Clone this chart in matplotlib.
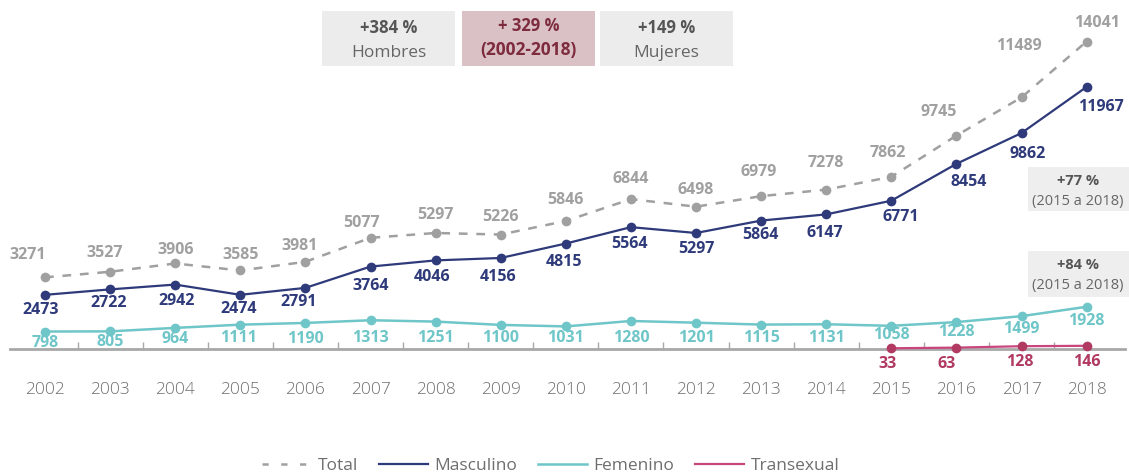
import matplotlib
matplotlib.use("Agg")
import matplotlib.pyplot as plt
from matplotlib.patches import Rectangle

# ---- data -------------------------------------------------------------
years = list(range(2002, 2019))
total = [3271, 3527, 3906, 3585, 3981, 5077, 5297, 5226, 5846,
         6844, 6498, 6979, 7278, 7862, 9745, 11489, 14041]
masculino = [2473, 2722, 2942, 2474, 2791, 3764, 4046, 4156, 4815,
             5564, 5297, 5864, 6147, 6771, 8454, 9862, 11967]
femenino = [798, 805, 964, 1111, 1190, 1313, 1251, 1100, 1031,
            1280, 1201, 1115, 1131, 1058, 1228, 1499, 1928]
trans_years = [2015, 2016, 2017, 2018]
transexual = [33, 63, 128, 146]

series_names = ["Total", "Masculino", "Femenino", "Transexual"]
top_boxes = [("+384 %", "Hombres"), ("+ 329 %", "(2002-2018)"), ("+149 %", "Mujeres")]
side_boxes = [("+77 %", "(2015 a 2018)"), ("+84 %", "(2015 a 2018)")]

# ---- style ------------------------------------------------------------
C_TOTAL = "#a0a0a0"
C_MASC = "#2e3a7a"
C_FEM = "#6fc6c8"
C_TRANS_LINE = "#c8467c"
C_TRANS = "#b03a62"
C_AXIS = "#a8a8a8"
C_TEXT = "#6e6e6e"

plt.rcParams["font.family"] = ["Open Sans", "DejaVu Sans"]

W, H = 1129, 476
fig = plt.figure(figsize=(W / 100, H / 100), dpi=100)

PX_PER_UNIT = 0.0219          # vertical pixels per case
X0, STEP = 45, 65.1           # pixel of first year, pixels per year
ax_left, ax_right = 10, 1125
ax_bottom_px = 127            # from figure bottom
ax_h_px = 330
ax = fig.add_axes([ax_left / W, ax_bottom_px / H, (ax_right - ax_left) / W, ax_h_px / H])
ax.set_xlim(years[0] + (ax_left - X0) / STEP, years[0] + (ax_right - X0) / STEP)
ax.set_ylim(0, ax_h_px / PX_PER_UNIT)

for s in ("top", "left", "right"):
    ax.spines[s].set_visible(False)
ax.spines["bottom"].set_color(C_AXIS)
ax.spines["bottom"].set_linewidth(2)
ax.set_yticks([])
ax.set_xticks(years)
ax.set_xticklabels([str(y) for y in years], fontweight="light")
ax.set_xticks([y + 0.5 for y in years[:-1]], minor=True)
ax.tick_params(axis="x", which="major", length=0, pad=24, labelsize=12.5, labelcolor=C_TEXT)
ax.tick_params(axis="x", which="minor", length=5, width=1, direction="in", color=C_AXIS)

ms = 7
ax.plot(years, total, color=C_TOTAL, lw=1.8, dashes=(3.5, 3.5), marker="o", ms=ms,
        markeredgewidth=0, label=series_names[0], clip_on=False, zorder=3)
ax.plot(years, masculino, color=C_MASC, lw=1.6, marker="o", ms=ms,
        markeredgewidth=0, label=series_names[1], clip_on=False, zorder=4)
ax.plot(years, femenino, color=C_FEM, lw=1.8, marker="o", ms=ms,
        markeredgewidth=0, label=series_names[2], clip_on=False, zorder=4)
ax.plot(trans_years, transexual, color=C_TRANS_LINE, lw=1.6, marker="o", ms=ms,
        markerfacecolor=C_TRANS, markeredgewidth=0, label=series_names[3],
        clip_on=False, zorder=5)

# label offsets in pixels: (right, down)
total_off = [(-17, -22), (-5, -19), (0, -13), (0, -15), (-6, -16), (-9, -15), (0, -18),
             (0, -18), (0, -21), (0, -20), (0, -17), (-2, -24), (0, -27), (-3, -24),
             (-18, -24), (-3, -51), (10, -19)]
masc_off = [(-4, 15), (-1, 14), (1, 16), (-2, 14), (-7, 14), (0, 19), (-4, 17), (-3, 19),
            (-2, 18), (-1, 17), (0, 16), (-1, 14), (-1, 19), (10, 16), (12, 18), (6, 21),
            (14, 20)]
fem_off = [(0, 11), (0, 11), (0, 11), (-2, 13), (0, 16), (0, 18), (0, 16), (0, 13),
           (0, 12), (0, 17), (0, 15), (0, 13), (0, 14), (0, 9), (0, 10), (0, 13), (0, 14)]
trans_off = [(-4, 16), (-10, 16), (-2, 16), (0, 16)]


def label_series(xs, vals, offs, color):
    for x, v, (dx, dy) in zip(xs, vals, offs):
        ax.annotate(f"{v}", (x, v), xytext=(dx * 0.72, -dy * 0.72),
                    textcoords="offset points", ha="center", va="center",
                    fontsize=11.5, fontweight="bold", color=color,
                    annotation_clip=False, zorder=6)


label_series(years, total, total_off, C_TOTAL)
label_series(years, masculino, masc_off, C_MASC)
label_series(years, femenino, fem_off, C_FEM)
label_series(trans_years, transexual, trans_off, C_TRANS)


# ---- annotation boxes (pixel coordinates from top-left) ----------------
def box(x0, y0, x1, y1, color):
    fig.patches.append(Rectangle((x0 / W, 1 - y1 / H), (x1 - x0) / W, (y1 - y0) / H,
                                 transform=fig.transFigure, facecolor=color,
                                 edgecolor="none", zorder=0))


def ftext(x, y, s, **kw):
    fig.text(x / W, 1 - y / H, s, ha="center", va="center", **kw)


top_geom = [(322, 455, "#ececec", "#555555", "#666666", "normal"),
            (462, 595, "#d9c1c5", "#7d2b3d", "#7d2b3d", "bold"),
            (600, 733, "#ececec", "#555555", "#666666", "normal")]
for (l1, l2), (x0, x1, bg, c1, c2, w2) in zip(top_boxes, top_geom):
    box(x0, 11, x1, 66, bg)
    cx = (x0 + x1) / 2
    y1, y2 = (26, 50) if w2 == "bold" else (28, 53)
    ftext(cx, y1, l1, fontsize=12, fontweight="bold", color=c1)
    ftext(cx, y2, l2, fontsize=12.5, fontweight=w2, color=c2)

for (l1, l2), (y0, y1) in zip(side_boxes, [(167, 211), (251, 297)]):
    box(1028, y0, 1129, y1, "#eeeeee")
    ftext(1078, y0 + 14, l1, fontsize=10.5, fontweight="bold", color="#555555")
    ftext(1078, y0 + 34, l2, fontsize=10.5, color="#666666")

# ---- legend ------------------------------------------------------------
leg = fig.legend(loc="center", bbox_to_anchor=(551 / W, 1 - 466 / H), ncol=4,
                 frameon=False, fontsize=12.5, handlelength=2.8, handletextpad=0.4,
                 columnspacing=1.2, borderaxespad=0)
for t in leg.get_texts():
    t.set_color(C_TEXT)
for h in leg.legend_handles:
    h.set_marker("")
leg.legend_handles[0].set_dashes((2.5, 5))

fig.savefig("out.png", dpi=100)
